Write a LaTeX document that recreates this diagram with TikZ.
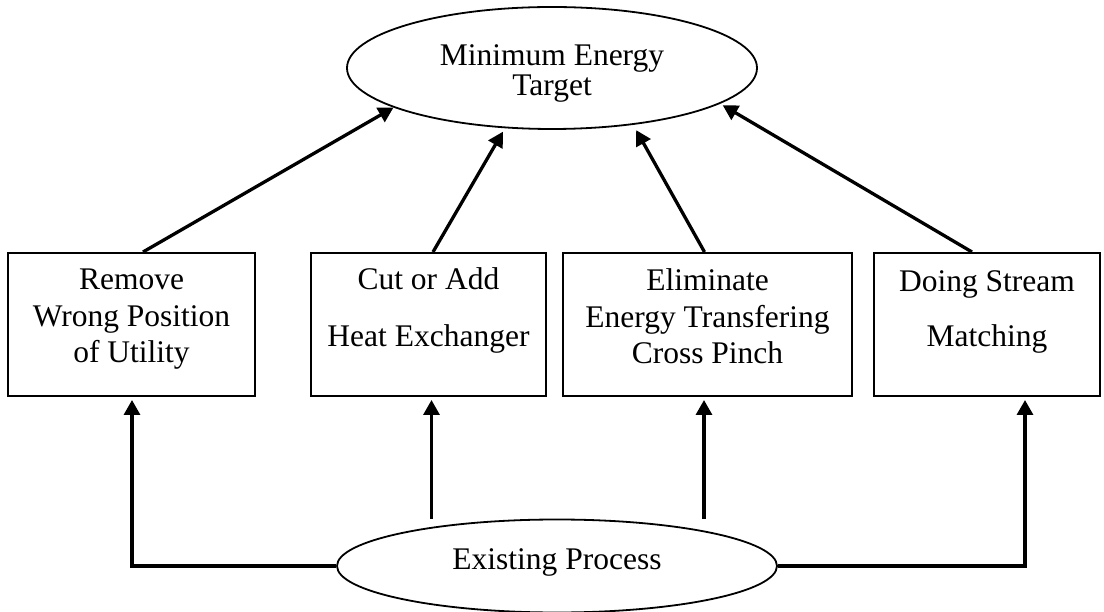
\documentclass[tikz,border=0pt]{standalone}
\usepackage{fontspec}
\setmainfont{Liberation Serif}
\usetikzlibrary{arrows.meta,shapes.geometric}
\begin{document}
\begin{tikzpicture}[x=1pt,y=-1pt,
  every node/.style={font=\fontsize{31.5}{36.5}\selectfont},
  boxnode/.style={draw, line width=2pt, rectangle, inner sep=0pt, minimum height=143pt},
  ellnode/.style={draw, line width=1.8pt, ellipse, inner sep=0pt},
  arr/.style={line width=3.3pt, -{Triangle[length=15pt,width=16pt]}}]
\useasboundingbox (0,0) rectangle (1104,612);
\node[ellnode, minimum width=410pt, minimum height=122pt] (top) at (552,68)
  {\parbox[c][80pt][t]{260pt}{\centering\rule{0pt}{38pt}Minimum Energy\\[-6.5pt]Target}};
\node[ellnode, minimum width=440pt, minimum height=93pt] (bot) at (557,566)
  {\parbox[c][40pt][t]{300pt}{\centering\rule{0pt}{23pt}Existing Process}};
\node[boxnode, minimum width=247pt] (b1) at (131.5,324.5)
  {\parbox[c][143pt][t]{240pt}{\centering\rule{0pt}{37pt}Remove\\Wrong Position\\of Utility}};
\node[boxnode, minimum width=235pt] (b2) at (428.5,324.5)
  {\parbox[c][143pt][t]{228pt}{\centering\rule{0pt}{37pt}Cut or Add\\[20.5pt]Heat Exchanger}};
\node[boxnode, minimum width=289pt] (b3) at (707.5,324.5)
  {\parbox[c][143pt][t]{283pt}{\centering\rule{0pt}{38pt}Eliminate\\Energy Transfering\\Cross Pinch}};
\node[boxnode, minimum width=226pt] (b4) at (987,324.5)
  {\parbox[c][143pt][t]{220pt}{\centering\rule{0pt}{39pt}Doing Stream\\[18.5pt]Matching}};
\draw[arr] ([xshift=11.5pt]b1.north) -- (top.194);
\draw[arr, shorten >=4pt] ([xshift=4.5pt]b2.north) -- (top.232);
\draw[arr, shorten >=6pt] ([xshift=-3pt]b3.north) -- (top.325);
\draw[arr, shorten >=3pt] ([xshift=-15pt]b4.north) -- (top.348);
\draw[arr, shorten >=3pt] (bot.west) -| ([xshift=0.5pt]b1.south);
\draw[arr, shorten >=3pt] ([xshift=3pt]b2.south |- bot.north) -- ([xshift=3pt]b2.south);
\draw[arr, shorten >=3pt] ([xshift=-3.5pt]b3.south |- bot.north) -- ([xshift=-3.5pt]b3.south);
\draw[arr, shorten >=3pt] (bot.east) -| ([xshift=38pt]b4.south);
\end{tikzpicture}
\end{document}
